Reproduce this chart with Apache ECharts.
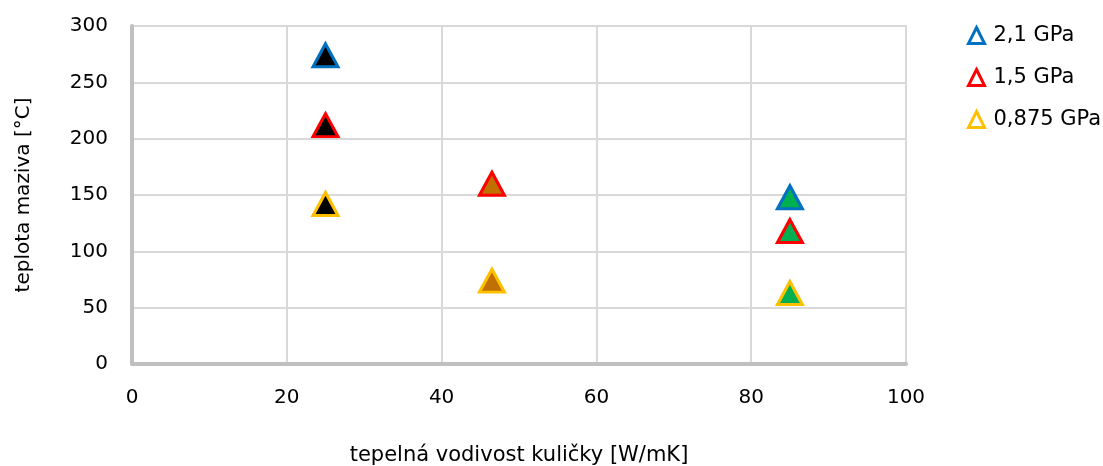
<!DOCTYPE html>
<html><head><meta charset="utf-8">
<script src="https://cdn.jsdelivr.net/npm/echarts@6/dist/echarts.min.js"></script>
<style>html,body{margin:0;padding:0;background:#fff}#c{width:1103px;height:466px}</style>
</head><body><div id="c"></div>
<script>
const seriesNames = ['2,1 GPa', '1,5 GPa', '0,875 GPa'];
const xValues = [25, 46.5, 85];
const values21 = [274, null, 148];
const values15 = [212, 160, 118];
const values0875 = [142, 74, 63];
const borderColors = ['#0070C0', '#FF0000', '#FFC000'];
const fillColors = ['#000000', '#C07000', '#00B050'];
const xTitle = 'tepelná vodivost kuličky [W/mK]';
const yTitle = 'teplota maziva [°C]';

const allValues = [values21, values15, values0875];
const font = 'DejaVu Sans';
const chart = echarts.init(document.getElementById('c'));
const series = seriesNames.map((name, s) => ({
  name, type: 'scatter', symbol: 'triangle', symbolSize: [25, 23], z: 3,
  itemStyle: { color: fillColors[0], borderColor: borderColors[s], borderWidth: 3, opacity: 1 },
  data: xValues.map((x, i) => allValues[s][i] == null ? null : {
    value: [x, allValues[s][i]],
    itemStyle: { color: fillColors[i], borderColor: borderColors[s], borderWidth: 3 }
  }).filter(d => d)
}));
chart.setOption({
  animation: false,
  textStyle: { fontFamily: font },
  grid: { left: 132, right: 197, top: 26, bottom: 102, show: true, borderColor: '#D9D9D9', borderWidth: 2,
          containLabel: false, outerBoundsMode: 'none' },
  legend: {
    orient: 'vertical', left: 962, top: 20, itemGap: 21, itemWidth: 16, itemHeight: 16,
    textStyle: { fontSize: 21, color: '#000', fontFamily: font, padding: [0,0,0,4] },
    data: seriesNames.map((n, s) => ({ name: n, icon: 'triangle',
      itemStyle: { color: '#fff', borderColor: borderColors[s], borderWidth: 3 } }))
  },
  xAxis: {
    type: 'value', min: 0, max: 100, interval: 20,
    name: xTitle, nameLocation: 'middle', nameGap: 81,
    nameTextStyle: { fontSize: 21, color: '#000', fontFamily: font },
    axisLine: { show: true, lineStyle: { color: '#C0C0C0', width: 4 } },
    axisTick: { show: false },
    axisLabel: { fontSize: 20, color: '#000', margin: 24 },
    splitLine: { show: true, lineStyle: { color: '#D9D9D9', width: 2 } }
  },
  yAxis: {
    type: 'value', min: 0, max: 300, interval: 50,
    name: yTitle, nameLocation: 'middle', nameGap: 98, nameRotate: 90,
    nameTextStyle: { fontSize: 20, color: '#000', fontFamily: font },
    axisLine: { show: true, lineStyle: { color: '#C0C0C0', width: 4 } },
    axisTick: { show: false },
    axisLabel: { fontSize: 20, color: '#000', margin: 24 },
    splitLine: { show: true, lineStyle: { color: '#D9D9D9', width: 2 } }
  },
  series
});
</script></body></html>
